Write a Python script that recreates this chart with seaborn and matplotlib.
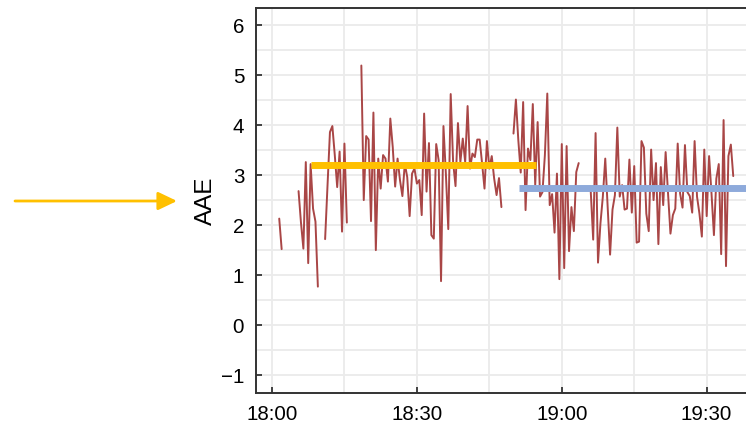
import numpy as np
import pandas as pd
import matplotlib
matplotlib.use("Agg")
import matplotlib.pyplot as plt
import matplotlib.dates as mdates
from matplotlib.ticker import MultipleLocator
import seaborn as sns

# ---- data (minutes after 18:00, 30-second sampling within each segment) ----
seg_start_min = [1.5, 5.5, 11.0, 18.5, 50.0, 66.0]
seg1 = [2.13, 1.52]
seg2 = [2.68, 2.05, 1.53, 3.26, 1.24, 3.22, 2.33, 2.07, 0.77]
seg3 = [1.72, 2.80, 3.86, 3.98, 3.40, 2.76, 3.47, 1.87, 3.63, 2.05]
seg4 = [5.19, 2.50, 3.78, 3.71, 2.08, 4.25,
        1.50, 3.33, 2.73, 3.40, 3.33, 2.87, 4.13, 3.56, 2.77, 3.33,
        2.90, 2.58, 3.23, 2.96, 2.18, 3.03, 3.13, 2.83, 2.90, 2.20,
        4.23, 2.67, 3.64, 1.80, 1.73, 3.62, 3.30, 0.88, 3.98, 3.03,
        1.92, 4.62, 3.26, 2.78, 4.04, 3.26, 3.73, 3.26, 4.38, 3.13,
        3.43, 3.36, 3.71, 3.71, 3.23, 2.73, 3.68, 3.13, 3.38, 2.93,
        2.60, 2.94, 2.36]
seg5 = [3.83, 4.51, 3.70, 3.05, 4.46, 2.30, 3.53, 3.30, 4.42, 2.80,
        4.06, 2.57, 2.66, 3.40, 4.63, 2.40, 2.62, 1.85, 3.03, 0.92,
        3.62, 1.14, 3.58, 1.48, 2.36, 1.88, 3.06, 3.24]
seg6 = [2.67, 1.71, 3.84, 1.25, 2.03, 2.57, 3.33, 2.36, 1.41, 2.31, 2.60,
        3.95, 2.57, 2.80, 2.31, 2.33, 3.31, 2.25, 3.18, 1.65, 1.67,
        3.68, 3.55, 2.23, 1.88, 3.51, 2.50, 3.24, 1.62, 3.16, 2.40,
        3.46, 2.63, 1.83, 2.20, 2.33, 3.63, 2.63, 2.35, 3.60, 2.66,
        2.58, 2.25, 3.68, 2.57, 2.23, 1.77, 3.51, 2.18, 3.38, 2.63,
        1.80, 2.93, 3.22, 1.42, 4.10, 1.18, 3.38, 3.61, 2.98]
segments = [seg1, seg2, seg3, seg4, seg5, seg6]

# mean levels of the two periods
period_names = ["A", "B"]
period_start_min = [8.1, 51.2]
period_end_min = [54.6, 100.0]
period_level = [3.20, 2.74]

y_ticks = [-1, 0, 1, 2, 3, 4, 5, 6]

RED = "#A94646"
ORANGE = "#FFC000"
BLUE = "#8EAADB"
SPINE = "#333333"

base = pd.Timestamp("2020-01-01 18:00")

rows = []
for sid, (st, vals) in enumerate(zip(seg_start_min, segments)):
    t = base + pd.to_timedelta(st + 0.5 * np.arange(len(vals)), unit="min")
    rows.append(pd.DataFrame({"time": t, "aae": vals, "seg": sid}))
df = pd.concat(rows, ignore_index=True)

mrows = []
for name, s, e, lv in zip(period_names, period_start_min, period_end_min, period_level):
    mrows.append({"time": base + pd.Timedelta(minutes=s), "level": lv, "period": name})
    mrows.append({"time": base + pd.Timedelta(minutes=e), "level": lv, "period": name})
mdf = pd.DataFrame(mrows)

sns.set_theme(style="white")
plt.rcParams["font.family"] = ["Liberation Sans", "DejaVu Sans"]

fig = plt.figure(figsize=(7.46, 4.30), dpi=100)
ax = fig.add_axes([256 / 746, 37.3 / 430, 490 / 746, 384.7 / 430])

sns.lineplot(data=df, x="time", y="aae", units="seg", estimator=None,
             color=RED, lw=1.4, ax=ax, legend=False)
sns.lineplot(data=mdf, x="time", y="level", hue="period",
             palette={"A": ORANGE, "B": BLUE}, estimator=None,
             lw=5.0, ax=ax, legend=False, solid_capstyle="butt")

ax.set_xlim(base - pd.Timedelta(minutes=3.31), base + pd.Timedelta(minutes=98.14))
ax.set_ylim(-1.35, 6.34)

ax.xaxis.set_major_locator(mdates.MinuteLocator(byminute=[0, 30]))
ax.xaxis.set_minor_locator(mdates.MinuteLocator(byminute=[15, 45]))
ax.xaxis.set_major_formatter(mdates.DateFormatter("%H:%M"))
ax.set_yticks(y_ticks)
ax.yaxis.set_minor_locator(MultipleLocator(0.5))

ax.grid(which="both", color="#EBEBEB", lw=1.3)
ax.set_axisbelow(True)

ax.tick_params(which="major", direction="in", length=4, width=1.3,
               color=SPINE, labelsize=14.8, pad=8.5, labelcolor="black",
               bottom=True, left=True, top=False, right=False)
ax.tick_params(which="minor", length=0)

for side in ["left", "bottom", "top"]:
    ax.spines[side].set_visible(True)
    ax.spines[side].set_color(SPINE)
    ax.spines[side].set_linewidth(1.4)
ax.spines["right"].set_visible(False)

ax.set_xlabel("")
ax.set_ylabel("AAE", fontsize=17.5, labelpad=3, color="black")

ax.annotate("", xy=(177, 229), xytext=(15, 229),
            xycoords="figure pixels", textcoords="figure pixels",
            arrowprops=dict(arrowstyle="-|>,head_length=1.15,head_width=0.55",
                            mutation_scale=10, color=ORANGE, lw=2,
                            shrinkA=0, shrinkB=0))

fig.savefig("out.png", dpi=100)
